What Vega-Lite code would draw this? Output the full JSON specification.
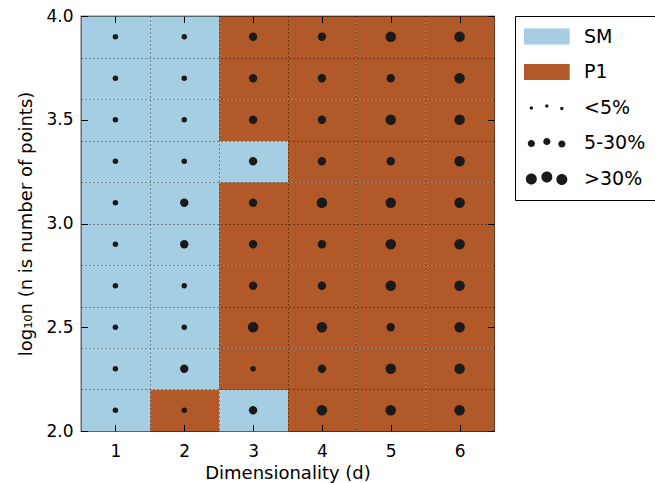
{
  "$schema": "https://vega.github.io/schema/vega-lite/v6.json",
  "width": 413,
  "height": 415,
  "autosize": {"type": "none"},
  "padding": {"left": 81, "top": 16, "right": 161, "bottom": 52},
  "background": "#ffffff",
  "data": {"values": [
    {"d":1,"logn":3.9,"method":"SM","pct":"<5%"},{"d":2,"logn":3.9,"method":"SM","pct":"<5%"},{"d":3,"logn":3.9,"method":"P1","pct":"5-30%"},{"d":4,"logn":3.9,"method":"P1","pct":"5-30%"},{"d":5,"logn":3.9,"method":"P1","pct":">30%"},{"d":6,"logn":3.9,"method":"P1","pct":">30%"},
    {"d":1,"logn":3.7,"method":"SM","pct":"<5%"},{"d":2,"logn":3.7,"method":"SM","pct":"<5%"},{"d":3,"logn":3.7,"method":"P1","pct":"5-30%"},{"d":4,"logn":3.7,"method":"P1","pct":"5-30%"},{"d":5,"logn":3.7,"method":"P1","pct":"5-30%"},{"d":6,"logn":3.7,"method":"P1","pct":">30%"},
    {"d":1,"logn":3.5,"method":"SM","pct":"<5%"},{"d":2,"logn":3.5,"method":"SM","pct":"<5%"},{"d":3,"logn":3.5,"method":"P1","pct":"5-30%"},{"d":4,"logn":3.5,"method":"P1","pct":"5-30%"},{"d":5,"logn":3.5,"method":"P1","pct":">30%"},{"d":6,"logn":3.5,"method":"P1","pct":">30%"},
    {"d":1,"logn":3.3,"method":"SM","pct":"<5%"},{"d":2,"logn":3.3,"method":"SM","pct":"<5%"},{"d":3,"logn":3.3,"method":"SM","pct":"5-30%"},{"d":4,"logn":3.3,"method":"P1","pct":"5-30%"},{"d":5,"logn":3.3,"method":"P1","pct":"5-30%"},{"d":6,"logn":3.3,"method":"P1","pct":">30%"},
    {"d":1,"logn":3.1,"method":"SM","pct":"<5%"},{"d":2,"logn":3.1,"method":"SM","pct":"5-30%"},{"d":3,"logn":3.1,"method":"P1","pct":"5-30%"},{"d":4,"logn":3.1,"method":"P1","pct":">30%"},{"d":5,"logn":3.1,"method":"P1","pct":">30%"},{"d":6,"logn":3.1,"method":"P1","pct":">30%"},
    {"d":1,"logn":2.9,"method":"SM","pct":"<5%"},{"d":2,"logn":2.9,"method":"SM","pct":"5-30%"},{"d":3,"logn":2.9,"method":"P1","pct":"5-30%"},{"d":4,"logn":2.9,"method":"P1","pct":"5-30%"},{"d":5,"logn":2.9,"method":"P1","pct":">30%"},{"d":6,"logn":2.9,"method":"P1","pct":">30%"},
    {"d":1,"logn":2.7,"method":"SM","pct":"<5%"},{"d":2,"logn":2.7,"method":"SM","pct":"<5%"},{"d":3,"logn":2.7,"method":"P1","pct":"5-30%"},{"d":4,"logn":2.7,"method":"P1","pct":"5-30%"},{"d":5,"logn":2.7,"method":"P1","pct":">30%"},{"d":6,"logn":2.7,"method":"P1","pct":">30%"},
    {"d":1,"logn":2.5,"method":"SM","pct":"<5%"},{"d":2,"logn":2.5,"method":"SM","pct":"<5%"},{"d":3,"logn":2.5,"method":"P1","pct":">30%"},{"d":4,"logn":2.5,"method":"P1","pct":">30%"},{"d":5,"logn":2.5,"method":"P1","pct":"5-30%"},{"d":6,"logn":2.5,"method":"P1","pct":">30%"},
    {"d":1,"logn":2.3,"method":"SM","pct":"<5%"},{"d":2,"logn":2.3,"method":"SM","pct":"5-30%"},{"d":3,"logn":2.3,"method":"P1","pct":"<5%"},{"d":4,"logn":2.3,"method":"P1","pct":"5-30%"},{"d":5,"logn":2.3,"method":"P1","pct":">30%"},{"d":6,"logn":2.3,"method":"P1","pct":">30%"},
    {"d":1,"logn":2.1,"method":"SM","pct":"<5%"},{"d":2,"logn":2.1,"method":"P1","pct":"<5%"},{"d":3,"logn":2.1,"method":"SM","pct":"5-30%"},{"d":4,"logn":2.1,"method":"P1","pct":">30%"},{"d":5,"logn":2.1,"method":"P1","pct":">30%"},{"d":6,"logn":2.1,"method":"P1","pct":">30%"}
  ]},
  "layer": [
    {
      "mark": {"type": "rect"},
      "encoding": {
        "x": {"field": "d", "type": "quantitative", "bin": {"step": 1, "extent": [0.5, 6.5], "nice": false},
              "scale": {"domain": [0.5, 6.5], "nice": false, "zero": false},
              "axis": {"orient": "bottom", "values": [1,2,3,4,5,6], "format": "d", "title": "Dimensionality (d)", "tickSize": -6.5, "labelPadding": 19, "titlePadding": 5, "grid": false, "domain": false, "zindex": 1}},
        "y": {"field": "logn", "type": "quantitative", "bin": {"step": 0.2, "extent": [2, 4], "nice": false},
              "scale": {"domain": [2, 4], "nice": false, "zero": false},
              "axis": {"orient": "left", "values": [2, 2.5, 3, 3.5, 4], "format": ".1f", "title": "log₁₀n (n is number of points)", "tickSize": -6.5, "labelPadding": 14.5, "titlePadding": 10, "grid": false, "domain": false, "zindex": 1}},
        "color": {"field": "method", "type": "nominal",
                  "scale": {"domain": ["SM", "P1", "<5%", "5-30%", ">30%"], "range": ["#a6cee3", "#b15928", "#1a1a1a", "#1a1a1a", "#1a1a1a"]},
                  "legend": {"title": null}}
      }
    },
    {
      "mark": {"type": "point", "filled": true, "opacity": 1, "strokeWidth": 0},
      "encoding": {
        "x": {"field": "d", "type": "quantitative", "scale": {"domain": [0.5, 6.5], "nice": false, "zero": false},
              "axis": {"orient": "top", "values": [1,2,3,4,5,6], "labels": false, "title": null, "tickSize": -6.5, "grid": false, "domain": false, "zindex": 1}},
        "y": {"field": "logn", "type": "quantitative", "scale": {"domain": [2, 4], "nice": false, "zero": false},
              "axis": {"orient": "right", "values": [2, 2.5, 3, 3.5, 4], "labels": false, "title": null, "tickSize": -6.5, "grid": false, "domain": false, "zindex": 1}},
        "color": {"field": "pct", "type": "nominal",
                  "scale": {"domain": ["SM", "P1", "<5%", "5-30%", ">30%"], "range": ["#a6cee3", "#b15928", "#1a1a1a", "#1a1a1a", "#1a1a1a"]},
                  "legend": {"title": null}},
        "size": {"field": "pct", "type": "ordinal", "scale": {"domain": ["<5%", "5-30%", ">30%"], "range": [30, 110, 235]}, "legend": null}
      }
    },
    {
      "transform": [{"filter": "false"}],
      "mark": {"type": "point", "filled": true, "opacity": 1, "strokeWidth": 0},
      "encoding": {
        "x": {"field": "d", "type": "quantitative", "scale": {"domain": [0.5, 6.5], "nice": false, "zero": false},
              "axis": {"orient": "bottom", "values": [1.5, 2.5, 3.5, 4.5, 5.5], "labels": false, "ticks": false, "domain": false, "title": null, "grid": true, "gridDash": [1, 3], "gridColor": "#000000", "gridWidth": 1, "gridOpacity": 0.75, "zindex": 1}},
        "y": {"field": "logn", "type": "quantitative", "scale": {"domain": [2, 4], "nice": false, "zero": false},
              "axis": {"orient": "left", "values": [2.2, 2.4, 2.6, 2.8, 3.0, 3.2, 3.4, 3.6, 3.8], "labels": false, "ticks": false, "domain": false, "title": null, "grid": true, "gridDash": [1, 3], "gridColor": "#000000", "gridWidth": 1, "gridOpacity": 0.75, "zindex": 1}},
        "color": {"field": "method", "type": "nominal",
                  "scale": {"domain": ["SM", "P1", "<5%", "5-30%", ">30%"], "range": ["#a6cee3", "#b15928", "#1a1a1a", "#1a1a1a", "#1a1a1a"]},
                  "legend": {"title": null}},
        "shape": {"field": "method", "type": "nominal",
                  "scale": {"domain": ["SM", "P1", "<5%", "5-30%", ">30%"],
                            "range": [
                              "M-2.856,-1H2.856V1H-2.856Z",
                              "M-2.856,-1H2.856V1H-2.856Z",
                              "M-2.15,0.0625A0.2125,0.2125 0 1,0 -1.725,0.0625A0.2125,0.2125 0 1,0 -2.15,0.0625ZM-0.2125,-0.1875A0.2125,0.2125 0 1,0 0.2125,-0.1875A0.2125,0.2125 0 1,0 -0.2125,-0.1875ZM1.6625,0.125A0.2125,0.2125 0 1,0 2.0875,0.125A0.2125,0.2125 0 1,0 1.6625,0.125Z",
                              "M-2.3875,0.0625A0.45,0.45 0 1,0 -1.4875,0.0625A0.45,0.45 0 1,0 -2.3875,0.0625ZM-0.45,-0.1875A0.45,0.45 0 1,0 0.45,-0.1875A0.45,0.45 0 1,0 -0.45,-0.1875ZM1.425,0.125A0.45,0.45 0 1,0 2.325,0.125A0.45,0.45 0 1,0 1.425,0.125Z",
                              "M-2.625,0.0625A0.6875,0.6875 0 1,0 -1.25,0.0625A0.6875,0.6875 0 1,0 -2.625,0.0625ZM-0.6875,-0.1875A0.6875,0.6875 0 1,0 0.6875,-0.1875A0.6875,0.6875 0 1,0 -0.6875,-0.1875ZM1.1875,0.125A0.6875,0.6875 0 1,0 2.5625,0.125A0.6875,0.6875 0 1,0 1.1875,0.125Z"
                            ]},
                  "legend": {"title": null}}
      }
    }
  ],
  "resolve": {"axis": {"x": "independent", "y": "independent"}},
  "config": {
    "view": {"stroke": "#000000", "strokeWidth": 1.2},
    "font": "DejaVu Sans",
    "axis": {"labelFont": "DejaVu Sans", "labelFontSize": 17, "labelColor": "#000000", "titleFont": "DejaVu Sans", "titleFontSize": 18, "titleFontWeight": "normal", "titleColor": "#000000", "tickColor": "#000000", "tickWidth": 1},
    "legend": {"orient": "right", "offset": 19.5, "padding": 11, "strokeColor": "#000000", "strokeWidth": 1, "fillColor": "#ffffff", "cornerRadius": 0,
               "labelFont": "DejaVu Sans", "labelFontSize": 19, "labelColor": "#000000", "symbolSize": 256, "symbolStrokeWidth": 0, "symbolOpacity": 1,
               "symbolOffset": 11.35, "labelOffset": 27.7, "rowPadding": 15.5}
  }
}
